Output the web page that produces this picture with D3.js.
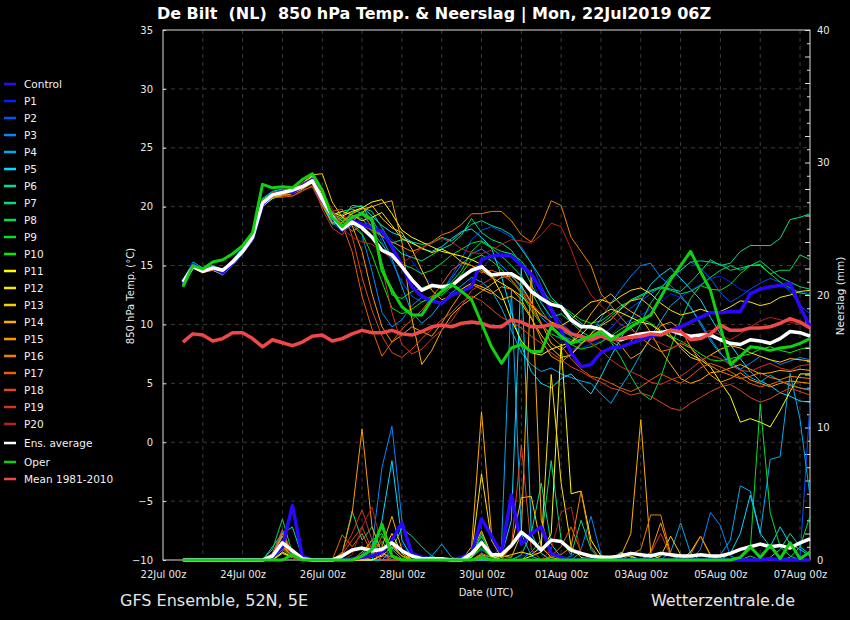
<!DOCTYPE html>
<html>
<head>
<meta charset="utf-8">
<script src="https://cdn.jsdelivr.net/npm/d3@7"></script>
<style>
  body { margin: 0; background: #000; }
</style>
</head>
<body>
<div id="chart"></div>
<script>
// ---- data: 850 hPa temperature (°C), 6-hourly from 22Jul2019 12Z ----
const tControl = [13.5,15.1,14.6,14.8,14.4,15.2,16.2,17.3, 20.2,21.0,21.3,21.2,21.8,22.3,20.5,19.3, 18.0,18.8,18.5,18.2,17.9,16.6,15.0,13.2, 12.4,12.0,11.8,12.5,12.8,13.2,15.5,15.8, 15.9,15.8,15.0,14.3,12.9,11.2,9.5,7.6, 6.4,6.6,7.6,8.0,8.1,8.4,8.7,9.0, 9.2,9.5,9.8,10.2,10.6,11.0,11.0,11.1, 11.1,12.6,13.0,13.2,13.3,13.5,11.5,9.8];
const tP1 = [13.4,15.0,14.5,14.9,14.6,15.4,16.4,17.5, 20.6,21.2,21.3,21.5,21.9,22.1,20.3,18.8, 18.0,18.6,18.9,18.3,17.8,17.2,16.5,15.4, 14.2,13.5,13.1,12.6,12.9,13.8,14.8,15.6, 16.2,16.0,15.1,13.9,12.0,10.2,8.6,7.9, 8.0,8.3,8.6,9.1,9.9,10.4,10.8,11.3, 11.9,12.6,12.3,12.9,13.4,13.9,14.1,13.6, 13.0,12.7,12.9,13.2,13.3,13.0,12.6,12.8];
const tP2 = [13.6,15.2,14.7,14.7,14.4,15.2,16.1,17.2, 20.1,20.8,21.0,21.2,21.5,22.0,20.8,19.5, 18.4,19.0,19.3,18.7,17.0,15.3,13.6,12.4, 11.9,12.2,12.8,14.1,15.6,17.2,18.0,18.3, 17.9,17.4,16.6,15.2,13.3,11.5,10.1,9.4, 8.8,8.5,9.0,9.7,10.6,11.4,12.0,12.6, 13.2,13.8,14.6,15.3,14.8,13.9,12.7,11.9, 12.4,13.0,13.5,13.9,13.6,12.8,11.6,10.9];
const tP3 = [13.5,15.1,14.6,14.8,14.6,15.3,16.3,17.3, 20.5,21.1,21.2,21.1,21.6,22.1,20.4,18.7, 17.9,18.4,17.6,14.5,11.0,9.8,10.4,11.6, 12.3,12.0,12.8,13.9,15.1,16.0,16.4,15.8, 15.0,14.2,13.1,11.9,10.6,9.8,9.1,8.7, 8.4,9.2,10.5,11.8,13.0,14.1,15.0,15.2, 14.0,13.3,12.5,11.4,10.2,8.8,7.6,6.5, 6.2,6.7,7.3,7.0,6.6,6.9,7.2,7.0];
const tP4 = [13.3,14.9,14.4,14.7,14.3,15.1,16.2,17.5, 20.3,21.0,21.4,21.4,21.8,22.4,20.7,19.0, 18.2,18.9,19.6,19.0,17.4,15.6,13.2,11.0, 10.1,10.8,11.9,12.7,13.3,14.0,13.6,12.9, 11.4,9.5,7.6,6.6,6.0,6.3,5.8,5.5, 5.2,5.0,4.1,3.3,4.7,6.0,7.5,8.9, 10.3,11.6,12.3,11.5,10.0,8.6,7.5,6.8, 6.2,5.5,5.1,5.7,5.2,4.8,4.6,4.5];
const tP5 = [13.7,15.3,14.8,14.9,14.7,15.5,16.5,17.6, 20.7,21.3,21.5,21.3,21.6,22.0,20.2,18.6, 19.0,20.1,20.0,19.2,18.4,17.8,17.5,17.0, 16.4,16.2,16.6,17.3,17.9,18.1,17.4,16.5, 14.1,11.1,8.2,6.0,5.0,4.6,5.4,5.8, 4.9,4.1,5.6,7.3,8.8,10.4,12.0,13.4, 14.2,14.8,13.9,13.0,12.1,10.6,9.2,8.3, 7.1,6.0,5.2,4.8,4.2,3.9,3.5,3.4];
const tP6 = [13.4,15.1,14.7,14.6,14.2,15.0,16.0,17.1, 20.1,20.7,21.0,21.3,21.8,22.4,20.9,19.3, 19.6,19.8,19.4,18.3,17.5,16.9,17.2,17.0, 16.8,16.9,17.4,17.1,17.8,18.5,18.8,18.4, 18.1,17.6,16.4,15.2,13.9,12.3,11.5,10.8, 10.1,9.6,10.0,10.7,11.4,12.1,12.5,12.9, 13.2,13.0,12.8,13.6,14.5,15.5,15.0,15.2, 16.2,16.7,16.7,16.7,17.3,18.9,19.1,19.4];
const tP7 = [13.5,15.0,14.6,14.8,14.5,15.3,16.3,17.4, 20.5,21.1,21.3,21.4,21.9,22.0,20.1,18.5, 18.7,19.5,19.9,19.6,18.2,16.8,16.0,15.7, 15.4,15.9,16.4,16.8,17.6,19.0,17.8,17.2, 16.9,16.3,15.1,13.4,11.8,10.6,10.9,10.2, 9.4,8.9,9.2,8.6,8.0,8.5,10.1,11.8, 13.0,14.1,14.6,15.3,15.4,15.3,15.1,14.6, 14.8,15.0,15.4,14.7,14.0,13.6,13.2,13.0];
const tP8 = [13.3,14.8,14.5,14.9,14.7,15.4,16.4,17.5, 20.4,21.0,21.1,21.2,21.6,22.1,20.5,19.0, 19.3,19.9,20.1,18.6,15.2,12.5,12.2,12.8, 13.1,13.4,13.0,13.6,14.6,16.2,17.0,16.5, 15.8,15.0,14.1,12.8,11.2,10.0,9.5,9.0, 8.4,8.8,9.3,8.5,7.2,5.6,4.2,3.6, 5.5,8.0,10.3,12.2,13.3,14.0,14.6,15.0, 14.6,15.0,15.0,14.3,14.6,14.6,15.9,15.5];
const tP9 = [13.6,15.2,14.8,15.0,14.7,15.5,16.4,17.4, 20.2,20.9,21.2,21.5,21.9,22.3,20.6,19.1, 18.8,19.2,19.0,17.9,16.8,15.7,15.1,14.8, 14.3,14.6,15.2,15.9,16.4,16.9,17.1,16.6, 16.2,16.0,15.4,14.2,12.9,12.0,11.6,11.0, 10.4,10.1,10.3,10.9,11.6,12.0,12.4,12.8, 13.1,12.9,12.6,12.8,13.3,13.0,12.9,13.4, 14.3,15.0,15.1,14.3,13.6,13.1,12.7,12.5];
const tP10 = [13.4,15.0,14.6,14.9,14.6,15.3,16.3,17.4, 20.6,21.2,21.4,21.5,22.0,22.5,20.9,19.4, 19.0,18.6,17.7,15.9,13.6,11.4,10.9,11.3, 11.9,12.4,12.5,13.2,14.3,15.5,15.9,15.4, 14.7,13.8,12.6,11.2,10.0,9.2,8.8,8.3, 7.9,8.1,8.5,9.0,9.6,10.1,10.5,10.1, 9.5,9.0,8.6,8.1,7.5,7.0,6.9,7.1, 7.3,7.5,7.9,8.1,7.8,7.6,7.9,8.1];
const tP11 = [13.7,15.1,14.5,14.6,14.3,15.2,16.1,17.2, 20.0,20.7,21.0,21.4,21.9,22.6,21.0,19.5, 19.2,19.6,19.9,20.4,20.6,19.4,18.0,17.4, 17.0,16.6,16.2,16.0,15.8,15.5,15.1,14.2, 12.6,10.4,8.6,7.6,7.4,7.9,8.2,8.5, 9.1,10.0,10.8,11.3,11.0,10.6,10.2,10.0, 9.4,8.9,8.2,7.5,7.0,6.4,5.1,3.9, 1.7,2.0,1.7,1.3,2.7,4.3,5.8,5.8];
const tP12 = [13.5,14.9,14.4,14.7,14.5,15.3,16.3,17.3, 20.3,21.0,21.1,21.2,21.7,22.3,20.8,19.3, 19.6,19.3,18.8,19.1,19.5,18.4,17.3,16.9, 16.5,16.1,16.4,16.0,15.3,15.0,14.6,14.0, 13.5,13.0,12.4,11.6,10.8,10.2,9.9,10.4, 11.2,11.9,12.1,11.8,12.4,12.9,13.1,12.6, 11.8,11.2,10.8,11.0,11.3,11.0,11.1,11.5, 12.0,11.9,11.6,11.8,12.3,12.5,12.8,12.9];
const tP13 = [13.6,15.0,14.6,14.7,14.4,15.3,16.3,17.4, 20.2,20.8,21.0,21.2,22.0,22.7,22.8,20.4, 19.1,18.7,19.5,20.1,19.0,18.2,17.8,16.4, 14.6,12.9,12.1,12.4,13.0,13.5,13.2,12.8, 12.1,12.4,11.8,10.5,9.1,8.0,7.2,7.4, 8.3,9.2,9.9,10.4,11.3,12.0,12.2,11.5, 10.2,9.1,8.0,7.2,6.9,7.4,7.9,8.2, 8.0,7.6,7.3,7.0,6.8,7.1,7.0,6.9];
const tP14 = [13.5,15.0,14.5,14.6,14.3,15.1,16.2,17.3, 20.2,20.8,20.9,21.1,21.5,22.0,20.5,19.0, 18.6,19.4,19.8,20.0,20.3,20.5,17.0,10.5, 6.6,7.8,9.5,10.8,11.6,12.2,12.8,13.4, 14.0,14.1,13.3,11.9,10.1,8.4,7.8,8.5, 9.6,10.9,12.0,12.6,11.7,11.1,10.6,9.3, 7.8,6.6,5.4,5.0,5.3,5.9,6.0,6.3, 6.6,6.2,5.8,5.9,6.1,6.0,6.2,6.1];
const tP15 = [13.4,14.9,14.5,14.7,14.5,15.2,16.2,17.3, 20.4,20.9,21.0,21.2,21.6,22.1,20.2,18.6, 19.2,18.4,16.2,12.6,9.8,8.5,9.1,9.8, 9.4,9.0,10.1,11.5,12.7,13.4,13.0,12.6, 13.2,13.0,12.1,10.6,8.7,7.3,6.8,7.5, 8.4,9.0,9.6,9.1,8.2,7.1,7.6,8.8, 9.9,10.2,9.6,8.1,6.8,5.7,5.1,5.4, 5.9,5.3,5.0,4.7,5.0,5.2,5.1,5.0];
const tP16 = [13.6,15.1,14.7,14.8,14.5,15.4,16.4,17.5, 20.5,21.1,21.3,21.4,21.8,22.2,20.7,19.4, 18.8,17.9,18.4,18.0,17.5,17.0,16.6,16.2, 16.5,17.0,17.6,17.9,18.5,19.4,19.4,19.6, 19.6,18.8,17.6,17.0,18.4,20.5,20.1,17.4, 16.2,15.0,12.6,11.6,10.6,9.7,8.9,8.2, 7.7,7.9,8.4,8.0,7.2,6.5,6.0,5.7, 5.4,5.6,5.9,5.5,5.3,5.6,5.5,5.4];
const tP17 = [13.3,14.8,14.4,14.6,14.4,15.1,16.1,17.2, 20.3,20.8,20.8,20.9,21.4,21.7,20.0,19.4, 18.5,16.2,12.4,9.6,7.3,8.5,9.6,10.4, 11.2,12.3,13.4,14.6,15.2,15.0,14.4,14.6, 14.3,13.6,12.8,11.5,10.1,9.0,8.2,7.1, 6.2,5.6,5.4,5.0,4.6,4.3,4.7,5.3, 5.8,5.4,5.0,5.6,6.3,6.7,6.4,6.0, 5.5,5.0,4.7,4.9,5.2,4.9,4.6,4.4];
const tP18 = [13.5,15.0,14.6,14.8,14.6,15.4,16.3,17.4, 20.5,21.2,21.0,20.9,21.3,21.8,20.3,19.6, 19.8,17.5,14.0,11.2,9.0,7.6,7.2,7.9, 8.8,9.6,10.4,11.0,11.9,12.4,12.0,11.3, 10.6,10.2,9.7,9.0,8.4,7.6,7.0,6.4, 6.0,5.5,5.1,4.6,4.4,4.0,4.2,3.9, 3.4,2.9,2.7,3.3,3.8,4.3,4.7,4.9, 4.4,3.8,3.4,3.7,4.2,4.6,4.3,4.0];
const tP19 = [13.4,14.9,14.5,14.7,14.4,15.2,16.2,17.3, 20.4,20.9,21.1,21.3,21.6,22.1,19.8,18.2, 17.6,18.9,19.5,18.2,14.9,11.0,8.3,7.5, 7.9,8.8,9.5,10.3,11.6,12.9,13.4,13.9, 14.2,13.8,12.9,11.8,10.9,10.1,9.5,9.2, 8.9,8.4,7.8,7.0,6.4,6.0,5.6,5.1, 4.9,5.3,5.6,6.2,6.9,7.4,7.1,6.6, 6.1,6.0,6.4,6.7,6.3,6.1,6.5,6.6];
const tP20 = [13.6,15.1,14.6,14.9,14.6,15.4,16.3,17.4, 20.3,20.9,21.3,21.6,22.0,22.4,21.2,19.8, 18.2,17.4,17.0,16.8,16.2,15.6,15.2,15.8, 16.5,16.9,17.3,17.0,16.4,16.1,16.0,16.3, 16.8,17.2,17.1,16.9,17.6,18.6,18.3,16.4, 14.1,12.5,11.6,10.8,10.0,9.5,9.2,8.8, 8.4,8.0,8.3,8.8,9.2,9.5,9.1,8.7, 9.2,9.8,10.3,10.6,10.4,10.2,10.0,10.1];
const tOper = [13.2,15.0,14.7,15.3,15.5,16.0,16.7,17.8, 21.9,21.6,21.7,21.6,22.3,22.8,21.4,19.1, 18.3,19.1,19.4,18.9,14.6,12.9,11.5,10.8, 10.8,12.1,12.8,13.4,12.8,12.1,10.1,8.1, 6.7,8.0,8.3,7.7,7.7,9.8,9.0,8.4, 8.7,9.0,9.4,8.7,9.2,9.8,10.3,10.8, 12.3,13.8,15.0,16.2,14.5,12.9,9.8,6.6, 7.3,8.1,8.0,7.8,8.0,8.1,8.4,8.8];
const tAverage = [13.6,14.9,14.5,14.8,14.6,15.3,16.2,17.4, 20.3,21.0,21.2,21.4,21.7,22.2,20.6,19.2, 18.1,18.7,18.2,17.4,16.3,15.9,14.9,13.8, 12.9,13.3,13.2,13.3,14.0,14.6,14.9,14.2, 14.3,14.3,13.8,12.8,12.2,11.7,11.5,10.4, 9.8,9.8,9.6,9.0,8.7,9.0,9.2,9.3, 9.3,9.5,9.2,9.0,9.1,9.1,8.7,8.4, 8.3,8.7,8.6,8.4,8.8,9.4,9.3,9.0];
const tClimate = [8.5,9.2,9.1,8.6,8.8,9.3,9.3,8.8, 8.1,8.7,8.45,8.2,8.5,9.0,9.1,8.6, 8.8,9.2,9.5,9.3,9.3,9.5,9.2,9.1, 9.4,9.8,9.95,9.8,10.1,10.2,10.1,9.8, 9.8,10.4,10.2,9.8,9.8,10.0,9.8,9.2, 9.0,8.7,9.0,8.7,8.8,8.9,9.0,9.2, 9.1,9.5,9.4,8.7,8.8,9.2,9.95,9.5, 9.5,9.7,9.7,9.8,10.1,10.5,10.2,9.7];

// ---- data: precipitation (mm per 6 h) ----
const pControl = [0,0,0,0,0,0,0,0, 0,0.2,1.0,4.1,0.3,0,0,0, 0,0.1,0.2,0.3,0.6,1.5,2.8,0.5, 0.2,0.1,0,0,0.2,0.5,3.1,1.8, 0.5,4.9,1.2,2.0,2.5,0.5,0.2,0, 0,0,0,0,0,0,0,0, 0,0,0,0,0,0,0,0, 0,0,0,0.1,0,0,0,0];
const pP1 = [0,0,0,0,0,0,0,0, 0,0,1.5,0.8,0,0,0,0, 0,0,0,0,0,0.6,1.2,0.2, 0,0,0,0,0,0.3,1.8,0.6, 0,0,0.3,0.5,0.8,0.4,0,0, 0,0,0,0,0,0,0,0, 0,0,0,0,0,0,0,0, 0,0,0,0,0,0,0,0];
const pP2 = [0,0,0,0,0,0,0,0, 0,0.2,1.0,0.3,0,0,0,0, 0,0,0.3,1.2,0.4,0,0,0, 0,0,0,0,0,0.2,1.0,0.3, 0,0,0,0,0,0,0,0, 0,0.4,0,0,0,0,0,0, 0,0,0,0,0,0,0,0, 0,0,0,0,0,0,0.2,11.8];
const pP3 = [0,0,0,0,0,0,0,0, 0,0.3,1.8,0.4,0,0,0,0, 0,0,0,1.0,7.0,10.1,3.0,0.5, 0,0,0,0,0,0.2,0.8,0.2, 0,0,0,0,0,0,0,0.3, 0.8,3.3,0.4,0,0,0,0,0, 0,0,0,0,0.8,3.6,2.6,0.3, 0,0,0,0,0,0,0,0];
const pP4 = [0,0,0,0,0,0,0,0, 0,0.5,2.2,0.3,0,0,0,0, 0,0,0,0,0,0,0,0, 0,0.3,1.2,0.2,0,0,0.4,0.2, 1.0,20.4,2.0,0.3,0,0,0,0, 0,0,0,0,0,0,0,0, 0,0.6,2.8,0.5,0,0,0.4,1.5, 5.6,5.2,2.0,7.6,7.8,14.1,10.6,4.8];
const pP5 = [0,0,0,0,0,0,0,0, 0,1.0,2.0,0.4,0,0,0,0, 0,0,0,0,3.0,7.5,1.5,0.2, 0,0,0,0,0,0,0,0, 0.3,3.0,22.1,2.0,0.5,0,0,0, 0,0,0,0,0.6,0.2,0,0, 0,0,0,0,0,0,0,0.5, 2.0,4.9,2.0,1.0,2.5,1.2,0.8,0.3];
const pP6 = [0,0,0,0,0,0,0,0, 0,0.4,2.0,2.5,0.2,0,0,0, 0,0,0,0,0,0.8,2.4,1.8, 1.0,0.3,0,0,0,0.3,1.5,0.3, 0,0,0.4,2.0,5.8,1.2,0.2,0, 0,0,0,0,0,0,0,0, 0,0,0,0,0,0,0,0, 0,0,0,0.2,0.8,2.0,1.0,0.4];
const pP7 = [0,0,0,0,0,0,0,0, 0,0.2,0.9,0.3,0,0,0,0, 0.5,3.7,1.5,2.5,0.6,0,0,0, 0,0,0,0,0,0.2,1.2,0.2, 0,0,0,0.6,1.5,7.5,1.5,0.4, 3.0,0.8,0,0,0,0,0,0, 0,0,0,0,0,0,0,0, 0,0,0,0,0,0,0,0];
const pP8 = [0,0,0,0,0,0,0,0, 0,0.8,3.1,0.5,0,0,0,0, 0,0,0.4,1.5,2.0,0.3,0,0, 0,0,0,0,0,0.3,2.0,0.4, 0,0,0,0,0,0,0,0, 0,0,0,0,0,0,0,0, 0,0,0,0,0,0,0,0, 0,0.3,0,0,0,0.2,1.0,3.3];
const pP9 = [0,0,0,0,0,0,0,0, 0,0.3,1.2,0.2,0,0,0,0, 0,0,0,0.5,1.4,0.4,0,0, 0,0,0,0,0,0.4,1.8,0.3, 0,0,0,0,0,0,0,0, 0.6,0.2,0,0,0,0,0,0, 0,0,0,0,0,0,0,0, 0.2,0.8,11.8,3.6,1.0,0.3,0,0];
const pP10 = [0,0,0,0,0,0,0,0, 0,0,0.8,0.2,0,0,0,0, 0,0,0,0.3,1.8,0.8,0.1,0, 0,0,0,0,0,0.3,0.9,0.2, 0,0,0,0,0,0,0,0, 0,0,0,0,0,0,0,0.4, 0.1,0,0,0,0,0,0,0, 0,0,0,0,0,0,0,0];
const pP11 = [0,0,0,0,0,0,0,0, 0,0,0.6,0.2,0,0,0,0, 0,0,0,0,0.3,1.0,0.3,0, 0,0,0,0,0,0.2,1.2,0.3, 0,0,0,0.3,0.6,2.0,16.3,5.0, 5.2,1.5,0.3,0,0.5,0.3,0,0, 0,0,0,0.6,1.8,0.4,0,0, 0,0,0,0,0,0,0,0];
const pP12 = [0,0,0,0,0,0,0,0, 0,0,0.5,0.2,0,0,0,0, 0,0,0,0,0.4,2.0,0.5,0, 0,0,0,0,0,0.5,6.5,1.5, 0.2,0.4,0.6,0.4,1.0,14.0,5.8,1.0, 0.2,0,0,0,0,0,0,0, 0,0,0,0,0,0,0,0, 0,0,0,0,0,0,0,0];
const pP13 = [0,0,0,0,0,0,0,0, 0,0.2,1.2,0.3,0,0,0,0, 0,0,0,0.4,0.6,1.2,0.3,0, 0,0,0,0,0,0.6,2.2,0.4, 0.2,1.0,4.7,4.8,1.0,0.2,0,0, 0,0,0,0,0,0,0,0, 0.3,1.8,0.4,0,0,0,0,0, 0,0,0,0,0,0,0,0];
const pP14 = [0,0,0,0,0,0,0,0, 0,0.4,1.8,0.5,0,0,0,0, 0,0,0,0.2,1.0,3.3,0.8,0, 0,0,0,0,0,1.0,11.2,2.0, 0.3,0.2,2.0,21.9,3.0,0.5,0,0, 0,0,0,0,0.3,2.0,10.6,0.5, 0,0,0,0,0,0,0,0, 0,0,0,0,0,0,0,0];
const pP15 = [0,0,0,0,0,0,0,0, 0,0.2,1.0,0.3,0,0,0,0, 0.5,3.5,9.9,2.5,0.5,0.2,0,0, 0,0,0,0,0,0,0.4,0, 0,0,0,0,0,0,0,0, 0,0,0,0,0,0,0,0.6, 2.8,0.4,0,0,0,0,0,0, 0,0,0,0,0,0,0,0];
const pP16 = [0,0,0,0,0,0,0,0, 0,0.3,2.0,0.5,0,0,0,0, 0,0,0.6,1.5,0.8,1.0,0.3,0, 0,0,0,0,0,0,0.5,0.2, 0,0,0,0,0,0.2,0.4,1.0, 5.2,1.0,0,0,0,0.4,0.8,3.4, 3.4,0.5,0,0,0,0,0,0, 0,0,0,0,0,0,0,0];
const pP17 = [0,0,0,0,0,0,0,0, 0,0.2,1.2,0.3,0,0,0,0, 1.9,1.0,2.0,0.5,0,0,0,0, 0,0,0,0,0,0,0.3,0, 0,0,0,0,0,0.3,1.0,2.5, 0.6,0,0,0,0,0,0,0, 0,0,0,0.4,1.8,0.3,0,0, 0,0,0,0,0,0,0,0];
const pP18 = [0,0,0,0,0,0,0,0, 0,0.5,2.3,0.4,0,0,0,0, 0.4,1.5,2.5,0.8,0,0,0,0, 0,0,0,0,0,0,0.3,0, 0,1.0,8.7,0.8,0,0,0,0, 0,0,0,0,0,0,0,0, 0,0,0,0,0,0,0,0, 0,0,0,0,0,0,0,0];
const pP19 = [0,0,0,0,0,0,0,0, 0,0.3,1.5,0.2,0,0,0,0, 0.6,2.0,3.8,1.5,0.3,0,0,0, 0,0,0,0,0,0,0.2,0, 0,0,0,0,0,0,0,0, 0,0,0,0,0,0,0,0.5, 2.0,0.3,0,0,0,0,0,0, 0,0,0,0,0,0,0,0];
const pP20 = [0,0,0,0,0,0,0,0, 0,0.2,0.9,0.2,0,0,0,0, 0,0.4,2.5,4.0,1.0,0.2,0,0, 0,0,0,0,0,0,0.2,0, 0,0,0,0,0,0.8,3.6,4.0, 0.5,0,0,0,0,0,0,0, 0,0,0,0,0,0,0,0, 0,0,0,0,0,0,0,0];
const pOper = [0,0,0,0,0,0,0,0, 0,0,0,0.4,0,0,0,0, 0,0,0.3,0.8,2.7,0.3,0,0, 0,0,0,0,0,0,0.2,0, 0,0,0,0,0,0,0,0, 0,0,0,0,0,0,0,0, 0,0,0,0,0,0,0,0, 0.2,1.0,0.2,1.1,0.1,1.3,0.1,0.6];
const pAverage = [0,0,0,0,0,0,0,0, 0,0.3,1.3,0.7,0.1,0,0,0, 0.3,0.75,0.9,0.7,0.8,1.3,0.7,0.3, 0.1,0.1,0.1,0,0,0.5,1.3,0.4, 0.4,1.1,2.1,1.5,0.75,1.5,1.4,0.75, 0.5,0.3,0.2,0.2,0.3,0.5,0.4,0.3, 0.5,0.4,0.3,0.3,0.4,0.3,0.3,0.5, 0.8,1.0,1.2,1.0,1.1,0.9,1.3,1.6];

// ---- labels ----
const memberNames = ["Control","P1","P2","P3","P4","P5","P6","P7","P8","P9","P10","P11","P12","P13","P14","P15","P16","P17","P18","P19","P20"];
const memberColors = ["#2a08ff","#0022ff","#0052ff","#0088ff","#00aaee","#00dcff","#00dca0","#00dc80","#00dc55","#00e030","#00ec00","#ffff00","#ffe400","#ffcc00","#ffae00","#ff9800","#f08000","#e86200","#dd4722","#d23424","#bb2020"];
const tempMembers = [tControl,tP1,tP2,tP3,tP4,tP5,tP6,tP7,tP8,tP9,tP10,tP11,tP12,tP13,tP14,tP15,tP16,tP17,tP18,tP19,tP20];
const rainMembers = [pControl,pP1,pP2,pP3,pP4,pP5,pP6,pP7,pP8,pP9,pP10,pP11,pP12,pP13,pP14,pP15,pP16,pP17,pP18,pP19,pP20];
const tempTicks = [-10,-5,0,5,10,15,20,25,30,35];
const rainTicks = [0,10,20,30,40];
const dateTicks = ["2019-07-22","2019-07-24","2019-07-26","2019-07-28","2019-07-30","2019-08-01","2019-08-03","2019-08-05","2019-08-07"];

// ---- scales ----
const W = 850, H = 620;
const svg = d3.select("#chart").append("svg")
  .attr("width", W).attr("height", H)
  .style("background", "#000")
  .style("font-family", "'DejaVu Sans', sans-serif");

const firstStep = Date.UTC(2019, 6, 22, 12);
const times = d3.range(tControl.length).map(i => new Date(firstStep + i * 6 * 3600e3));

const x = d3.scaleUtc()
  .domain([new Date(Date.UTC(2019, 6, 22, 0)), new Date(Date.UTC(2019, 7, 7, 6))])
  .range([163, 810]);
const yT = d3.scaleLinear().domain([-10, 35]).range([560, 30]);
const yP = d3.scaleLinear().domain([0, 40]).range([560, 30]);
const [x0, x1] = x.range();
const [yb, yt] = yT.range();

// ---- grid ----
const grid = svg.append("g").attr("stroke", "#3b3b3b").attr("stroke-dasharray", "4,4");
grid.selectAll(".h").data(tempTicks.slice(1, -1)).enter().append("line")
  .attr("x1", x0).attr("x2", x1)
  .attr("y1", d => yT(d)).attr("y2", d => yT(d));
grid.selectAll(".v").data(d3.utcDay.range(new Date(Date.UTC(2019, 6, 23)), new Date(Date.UTC(2019, 7, 7, 1)))).enter().append("line")
  .attr("y1", yt).attr("y2", yb)
  .attr("x1", d => x(d)).attr("x2", d => x(d));

// ---- axes ----
const left = svg.append("g").attr("transform", `translate(${x0},0)`)
  .call(d3.axisLeft(yT).tickValues(tempTicks).tickSize(-3).tickPadding(10));
const right = svg.append("g").attr("transform", `translate(${x1},0)`)
  .call(d3.axisRight(yP).tickValues(d3.range(0, 41)).tickSize(-3).tickPadding(7)
    .tickFormat(d => rainTicks.includes(d) ? d : ""));
right.selectAll(".tick line").attr("x2", d => d % 2 === 0 ? -5 : -3);
const bottom = svg.append("g").attr("transform", `translate(0,${yb})`)
  .call(d3.axisBottom(x).tickValues(dateTicks.map(d => new Date(d + "T00:00:00Z")))
    .tickSize(0).tickPadding(11).tickFormat(d3.utcFormat("%d%b %Hz")));

[left, right, bottom].forEach(g => {
  g.select(".domain").remove();
  g.selectAll(".tick line").attr("stroke", "#e0e0e0");
  g.selectAll("text").attr("fill", "#e8e8e8").style("font-size", "10px").style("font-family", "'DejaVu Sans', sans-serif");
});

// frame
svg.append("rect")
  .attr("x", x0).attr("y", yt).attr("width", x1 - x0).attr("height", yb - yt)
  .attr("fill", "none").attr("stroke", "#dcdcdc").attr("stroke-width", 1);

// ---- lines ----
const tLine = d3.line().x((d, i) => x(times[i])).y(d => yT(d));
const pLine = d3.line().x((d, i) => x(times[i])).y(d => yP(d));
const plot = svg.append("g").attr("fill", "none").attr("stroke-linejoin", "round");

// members P1..P20 (thin)
for (let m = 1; m < memberNames.length; m++) {
  plot.append("path").attr("d", tLine(tempMembers[m])).attr("stroke", memberColors[m]).attr("stroke-width", 1);
  plot.append("path").attr("d", pLine(rainMembers[m])).attr("stroke", memberColors[m]).attr("stroke-width", 1);
}
// thick series on top
const thick = [
  {t: tControl, p: pControl, c: memberColors[0], w: 3.5},
  {t: tAverage, p: pAverage, c: "#ffffff", w: 3.5},
  {t: tClimate, p: null, c: "#f04848", w: 3.5},
  {t: tOper, p: pOper, c: "#10d010", w: 3}
];
thick.forEach(s => {
  plot.append("path").attr("d", tLine(s.t)).attr("stroke", s.c).attr("stroke-width", s.w);
  if (s.p) plot.append("path").attr("d", pLine(s.p)).attr("stroke", s.c).attr("stroke-width", s.w);
});

// ---- legend ----
const legendItems = memberNames.map((n, i) => ({name: n, color: memberColors[i], y: 84 + i * 17}))
  .concat([
    {name: "Ens. average", color: "#ffffff", y: 443},
    {name: "Oper", color: "#10d010", y: 462},
    {name: "Mean 1981-2010", color: "#f04848", y: 479}
  ]);
const legend = svg.append("g");
legend.selectAll("line").data(legendItems).enter().append("line")
  .attr("x1", 4).attr("x2", 16)
  .attr("y1", d => d.y).attr("y2", d => d.y)
  .attr("stroke", d => d.color).attr("stroke-width", 2.5);
legend.selectAll("text").data(legendItems).enter().append("text")
  .attr("x", 24).attr("y", d => d.y).attr("dy", "0.35em")
  .attr("fill", "#f0f0f0").style("font-size", "10.5px")
  .text(d => d.name);

// ---- titles ----
svg.append("text").attr("x", 434).attr("y", 19).attr("text-anchor", "middle")
  .attr("fill", "#fff").style("font-size", "16px").style("font-weight", "bold")
  .text("De Bilt  (NL)  850 hPa Temp. & Neerslag | Mon, 22Jul2019 06Z")
  .attr("xml:space", "preserve").style("white-space", "pre");
svg.append("text").attr("transform", "translate(134,296) rotate(-90)").attr("text-anchor", "middle")
  .attr("fill", "#e8e8e8").style("font-size", "10px").text("850 hPa Temp. (°C)");
svg.append("text").attr("transform", "translate(844,296) rotate(-90)").attr("text-anchor", "middle")
  .attr("fill", "#e8e8e8").style("font-size", "10.5px").text("Neerslag (mm)");
svg.append("text").attr("x", 486).attr("y", 596).attr("text-anchor", "middle")
  .attr("fill", "#e8e8e8").style("font-size", "10px").text("Date (UTC)");
svg.append("text").attr("x", 120).attr("y", 606)
  .attr("fill", "#e6e6e6").style("font-size", "16px").text("GFS Ensemble, 52N, 5E");
svg.append("text").attr("x", 795).attr("y", 606).attr("text-anchor", "end")
  .attr("fill", "#e6e6e6").style("font-size", "16px").text("Wetterzentrale.de");
</script>
</body>
</html>
